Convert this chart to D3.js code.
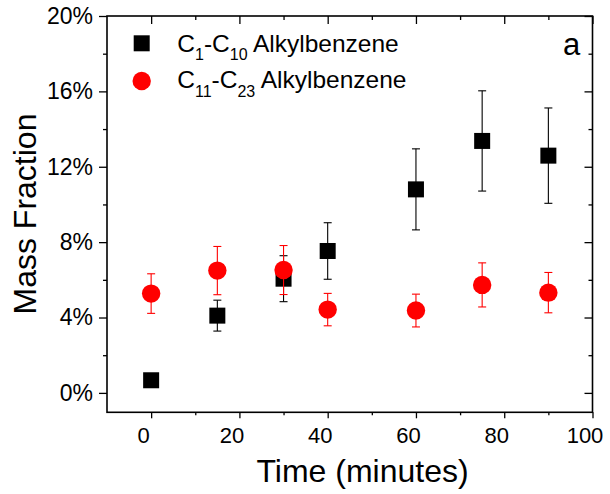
<!DOCTYPE html>
<html>
<head>
<meta charset="utf-8">
<script src="https://cdn.jsdelivr.net/npm/d3@7"></script>
<style>
  html, body { margin: 0; padding: 0; background: #fff; }
  svg { display: block; font-family: "Liberation Sans", Arial, sans-serif; }
</style>
</head>
<body>
<svg id="chart" width="610" height="494"></svg>
<script>
// Sampling times (minutes)
const times = [0, 15, 30, 40, 60, 75, 90];

// C1-C10 alkylbenzene mass fraction (%) and standard deviation
const lightValues = [0.67, 4.10, 6.06, 7.53, 10.80, 13.37, 12.59];
const lightErrors = [0, 0.82, 1.22, 1.50, 2.15, 2.66, 2.53];

// C11-C23 alkylbenzene mass fraction (%) and standard deviation
const heavyValues = [5.27, 6.49, 6.52, 4.42, 4.37, 5.73, 5.32];
const heavyErrors = [1.05, 1.28, 1.30, 0.86, 0.87, 1.17, 1.07];

// Axis ticks
const yMajorTicks = [0, 4, 8, 12, 16, 20];
const yMinorTicks = [2, 6, 10, 14, 18];
const xMajorTicks = [0, 20, 40, 60, 80, 100];
const xMinorTicks = [10, 30, 50, 70, 90];

// Legend entries: [main, subscript, main, subscript, tail]
const legendLight = ["C", "1", "-C", "10", " Alkylbenzene"];
const legendHeavy = ["C", "11", "-C", "23", " Alkylbenzene"];
const panelLabel = "a";

const svg = d3.select("#chart");
const plotLeft = 107, plotTop = 16, plotRight = 592.5, plotBottom = 412.3;

const x = d3.scaleLinear().domain([-10, 100]).range([plotLeft, plotRight]);
const y = d3.scaleLinear().domain([-1.03, 20]).range([plotBottom, plotTop]);

const axisColor = "#000";

// Tick marks only (no labels, no domain path)
function ticksOnly(g, axis) {
  g.call(axis).call(s => s.selectAll("text").remove()).call(s => s.select(".domain").remove());
  g.selectAll("line").attr("stroke", axisColor).attr("stroke-width", 1.3);
}

// Bottom axis
const gxb = svg.append("g").attr("transform", `translate(0,${plotBottom})`)
  .call(d3.axisBottom(x).tickValues(xMajorTicks).tickSize(6).tickSizeOuter(0).tickPadding(9));
gxb.select(".domain").remove();
gxb.selectAll("line").attr("stroke", axisColor).attr("stroke-width", 1.3);
gxb.selectAll("text").attr("font-size", 22).attr("fill", "#000")
  .attr("font-family", "Liberation Sans, Arial, sans-serif").attr("dx", -8);
svg.append("g").attr("transform", `translate(0,${plotBottom})`)
  .call(g => ticksOnly(g, d3.axisBottom(x).tickValues(xMinorTicks).tickSize(3).tickSizeOuter(0)));

// Top axis (inward ticks)
svg.append("g").attr("transform", `translate(0,${plotTop})`)
  .call(g => ticksOnly(g, d3.axisBottom(x).tickValues(xMajorTicks).tickSize(8).tickSizeOuter(0)));
svg.append("g").attr("transform", `translate(0,${plotTop})`)
  .call(g => ticksOnly(g, d3.axisBottom(x).tickValues(xMinorTicks).tickSize(4).tickSizeOuter(0)));

// Left axis
const gyl = svg.append("g").attr("transform", `translate(${plotLeft},0)`)
  .call(d3.axisLeft(y).tickValues(yMajorTicks).tickSize(8).tickSizeOuter(0).tickPadding(6)
    .tickFormat(d => d + "%"));
gyl.select(".domain").remove();
gyl.selectAll("line").attr("stroke", axisColor).attr("stroke-width", 1.3);
gyl.selectAll("text").attr("font-size", 23).attr("fill", "#000")
  .attr("font-family", "Liberation Sans, Arial, sans-serif");
svg.append("g").attr("transform", `translate(${plotLeft},0)`)
  .call(g => ticksOnly(g, d3.axisLeft(y).tickValues(yMinorTicks).tickSize(4).tickSizeOuter(0)));

// Right axis (inward ticks)
svg.append("g").attr("transform", `translate(${plotRight},0)`)
  .call(g => ticksOnly(g, d3.axisLeft(y).tickValues(yMajorTicks).tickSize(8).tickSizeOuter(0)));
svg.append("g").attr("transform", `translate(${plotRight},0)`)
  .call(g => ticksOnly(g, d3.axisLeft(y).tickValues(yMinorTicks).tickSize(4).tickSizeOuter(0)));

// Frame
svg.append("rect")
  .attr("x", plotLeft).attr("y", plotTop)
  .attr("width", plotRight - plotLeft).attr("height", plotBottom - plotTop)
  .attr("fill", "none").attr("stroke", "#000").attr("stroke-width", 1.6);

// Error bars
function errorBars(values, errors, color) {
  const data = times.map((t, i) => ({ t, v: values[i], e: errors[i] })).filter(d => d.e > 0);
  const g = svg.append("g").attr("stroke", color).attr("stroke-width", 1.1).attr("fill", "none");
  g.selectAll("line.stem").data(data).join("line").attr("class", "stem")
    .attr("x1", d => x(d.t)).attr("x2", d => x(d.t))
    .attr("y1", d => y(d.v - d.e)).attr("y2", d => y(d.v + d.e));
  g.selectAll("line.capTop").data(data).join("line").attr("class", "capTop")
    .attr("x1", d => x(d.t) - 4).attr("x2", d => x(d.t) + 4)
    .attr("y1", d => y(d.v + d.e)).attr("y2", d => y(d.v + d.e));
  g.selectAll("line.capBottom").data(data).join("line").attr("class", "capBottom")
    .attr("x1", d => x(d.t) - 4).attr("x2", d => x(d.t) + 4)
    .attr("y1", d => y(d.v - d.e)).attr("y2", d => y(d.v - d.e));
}

// C1-C10 series: black squares
errorBars(lightValues, lightErrors, "#000");
const sq = 16;
svg.append("g").selectAll("rect").data(times.map((t, i) => ({ t, v: lightValues[i] }))).join("rect")
  .attr("x", d => x(d.t) - sq / 2).attr("y", d => y(d.v) - sq / 2)
  .attr("width", sq).attr("height", sq).attr("fill", "#000");

// C11-C23 series: red circles
errorBars(heavyValues, heavyErrors, "#ff0000");
svg.append("g").selectAll("circle").data(times.map((t, i) => ({ t, v: heavyValues[i] }))).join("circle")
  .attr("cx", d => x(d.t)).attr("cy", d => y(d.v)).attr("r", 9.2).attr("fill", "#ff0000");

// Legend
function legendText(parts, yBase) {
  const t = svg.append("text").attr("x", 177.3).attr("y", yBase)
    .attr("font-size", 24.5).attr("fill", "#000");
  parts.forEach((p, i) => {
    const isSub = i % 2 === 1;
    t.append("tspan").text(p)
      .attr("font-size", isSub ? 16 : 24.5)
      .attr("dy", isSub ? 8.3 : (i > 0 ? -8.3 : 0));
  });
}
svg.append("rect").attr("x", 141.7 - sq / 2).attr("y", 43.3 - sq / 2)
  .attr("width", sq).attr("height", sq).attr("fill", "#000");
legendText(legendLight, 51.7);
svg.append("circle").attr("cx", 141.7).attr("cy", 81).attr("r", 9.2).attr("fill", "#ff0000");
legendText(legendHeavy, 88.3);

// Panel label
svg.append("text").attr("x", 571.7).attr("y", 55).attr("text-anchor", "middle")
  .attr("font-size", 31).attr("fill", "#000").text(panelLabel);

// Axis titles
svg.append("text").attr("x", 362.5).attr("y", 481.7).attr("text-anchor", "middle")
  .attr("font-size", 32).attr("fill", "#000").text("Time (minutes)");
svg.append("text").attr("transform", "translate(36,214) rotate(-90)").attr("text-anchor", "middle")
  .attr("font-size", 32).attr("fill", "#000").text("Mass Fraction");
</script>
</body>
</html>
